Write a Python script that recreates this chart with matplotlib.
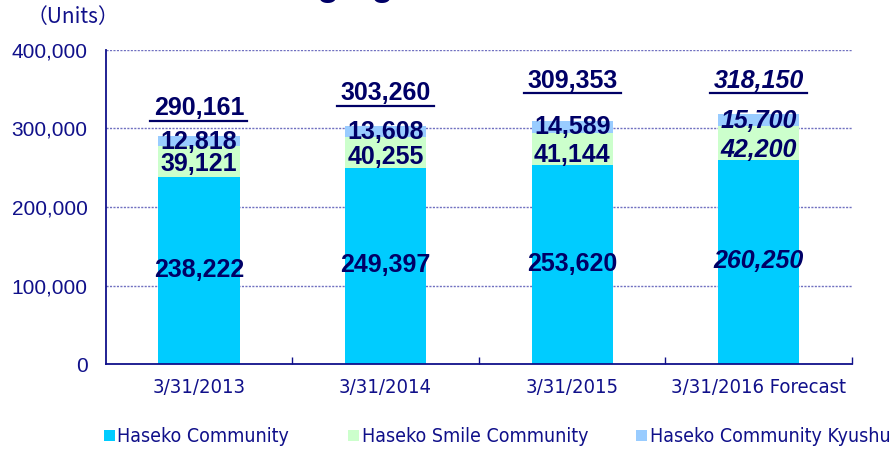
import matplotlib.pyplot as plt
from matplotlib.patches import Patch

categories = ['3/31/2013', '3/31/2014', '3/31/2015', '3/31/2016 Forecast']
community = [238222, 249397, 253620, 260250]
smile = [39121, 40255, 41144, 42200]
kyushu = [12818, 13608, 14589, 15700]
totals = [290161, 303260, 309353, 318150]
forecast = [False, False, False, True]
series_names = ['Haseko Community', 'Haseko Smile Community', 'Haseko Community Kyushu']
yticks = [0, 100000, 200000, 300000, 400000]

navy = '#10108a'
dark = '#000066'
colors = ['#00CCFF', '#CCFFCC', '#99CCFF']

plt.rcParams['font.family'] = ['Liberation Sans', 'DejaVu Sans']
narrow = {'family': 'DejaVu Sans', 'stretch': 'condensed'}

fig = plt.figure(figsize=(8.95, 4.49), dpi=100)
ax = fig.add_axes([0.118, 0.189, 0.834, 0.700])

x = range(len(categories))
width = 0.435
bottom3 = [c + s for c, s in zip(community, smile)]
ax.bar(x, community, width, color=colors[0], edgecolor='none', zorder=3)
ax.bar(x, smile, width, bottom=community, color=colors[1], edgecolor='none', zorder=3)
ax.bar(x, kyushu, width, bottom=bottom3, color=colors[2], edgecolor='none', zorder=3)

ax.set_xlim(-0.5, 3.5)
ax.set_ylim(0, 400000)
ax.set_yticks(yticks)
ax.set_yticklabels(['{:,}'.format(v) for v in yticks], fontsize=15, color=navy)
ax.tick_params(axis='y', length=0, pad=13)
ax.set_xticks(list(x))
ax.set_xticklabels(categories, fontsize=14.5, color=navy, **narrow)
ax.tick_params(axis='x', length=0, pad=10)
ax.set_xticks([0.5, 1.5, 2.5, 3.5], minor=True)
ax.tick_params(axis='x', which='minor', direction='in', length=5, color=navy, width=1)

for y in yticks[1:]:
    ax.axhline(y, color='#7070c0', linestyle=(0, (1.5, 1)), linewidth=1, zorder=1)

for side in ['top', 'right']:
    ax.spines[side].set_visible(False)
for side in ['left', 'bottom']:
    ax.spines[side].set_color(navy)
    ax.spines[side].set_linewidth(1.3)
ax.spines['bottom'].set_zorder(4)

# label placement tweaks (data units)
total_line_y = [310000, 329000, 345000, 345000]
smile_shift = [-2500, -5500, -8000, -9000]
for i in x:
    st = 'italic' if forecast[i] else 'normal'
    kw = dict(ha='center', color=dark, fontsize=18, fontweight='bold', style=st, zorder=5)
    ax.text(i, community[i] / 2 + 1000, '{:,}'.format(community[i]), va='center', **kw)
    ax.text(i, community[i] + smile[i] / 2 + smile_shift[i], '{:,}'.format(smile[i]), va='center', **kw)
    ax.text(i, bottom3[i] + kyushu[i] / 2 - 500, '{:,}'.format(kyushu[i]), va='center', **kw)
    ax.text(i, total_line_y[i] + 300, '{:,}'.format(totals[i]), va='bottom', **kw)
    ax.plot([i - 0.26, i + 0.26], [total_line_y[i], total_line_y[i]], color=dark, lw=1.6, zorder=5)

fig.text(0.030, 0.962, '（Units）', fontsize=15, color=navy, va='center',
         family=['Noto Sans CJK JP', 'DejaVu Sans'])
fig.text(0.252, 1.011, 'Managing', fontsize=26, fontweight='bold', color=dark, va='baseline')

# one legend per entry so each can sit where the reference has it
legend_x = [0.116, 0.389, 0.711]
for c, name, lx in zip(colors, series_names, legend_x):
    fig.legend([Patch(facecolor=c, edgecolor='none')], [name], loc='center left',
               bbox_to_anchor=(lx, 0.027), frameon=False, handlelength=0.55,
               handleheight=0.55, handletextpad=0.15, prop=dict(size=14, **narrow),
               labelcolor=navy, borderaxespad=0, borderpad=0)

fig.savefig('out.png', dpi=100)
